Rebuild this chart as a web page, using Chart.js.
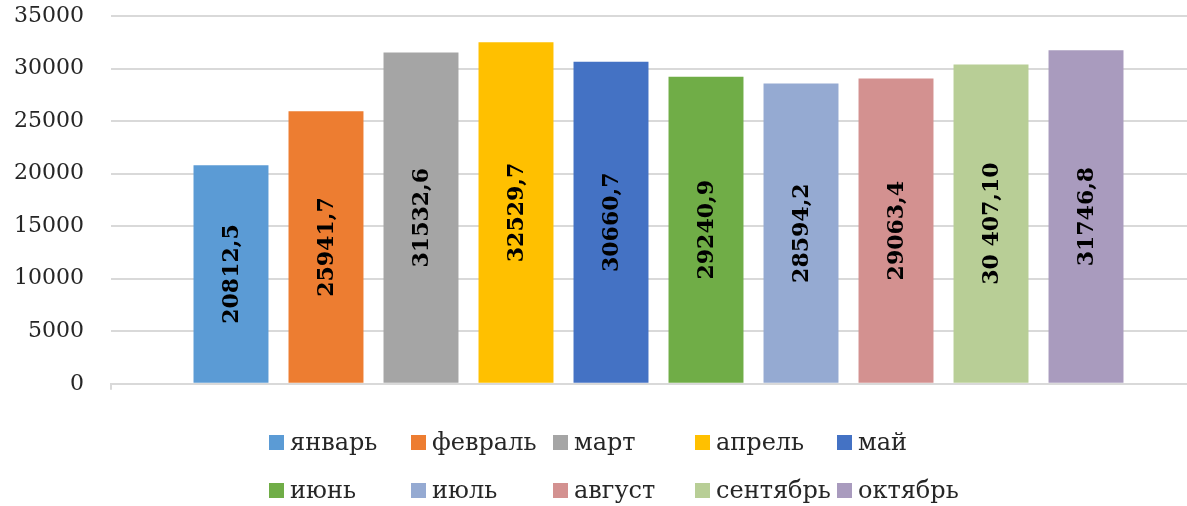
<!DOCTYPE html>
<html lang="ru">
<head>
  <meta charset="UTF-8" />
  <title>Месяцы</title>
  <script src="https://cdn.jsdelivr.net/npm/chart.js"></script>
  <style>
    html, body { margin: 0; padding: 0; background: #fff; }
    body { width: 1187px; height: 506px; overflow: hidden; position: relative; font-family: 'DejaVu Serif', serif; }
    #wrap { position: absolute; left: 0; top: 0; width: 1210px; height: 400px; }
    #legend { position: absolute; left: 0; top: 0; width: 1187px; height: 506px; pointer-events: none; }
    .item { position: absolute; height: 30px; display: flex; align-items: center; font-size: 24px; color: #262626; white-space: nowrap; }
    .box { width: 15px; height: 15px; margin-right: 6px; }
  </style>
</head>
<body>

<div id="wrap"><canvas id="chart" width="1210" height="400"></canvas></div>
<div id="legend"></div>

<script>
  // data
  const months = ['январь', 'февраль', 'март', 'апрель', 'май', 'июнь', 'июль', 'август', 'сентябрь', 'октябрь'];
  const values = [20812.5, 25941.7, 31532.6, 32529.7, 30660.7, 29240.9, 28594.2, 29063.4, 30407.1, 31746.8];
  const valueLabels = ['20812,5', '25941,7', '31532,6', '32529,7', '30660,7', '29240,9', '28594,2', '29063,4', '30 407,10', '31746,8'];
  const colors = ['#5B9BD5', '#ED7D31', '#A5A5A5', '#FFC000', '#4472C4', '#70AD47', '#95AAD2', '#D39190', '#B8CE96', '#A99BBE'];
  const yTicks = [0, 5000, 10000, 15000, 20000, 25000, 30000, 35000];

  const font = 'DejaVu Serif';

  // labels inside the bars, rotated
  const barLabels = {
    id: 'barLabels',
    afterDatasetsDraw(chart) {
      const ctx = chart.ctx;
      chart.data.datasets.forEach((ds, i) => {
        const el = chart.getDatasetMeta(i).data[0];
        const cy = (el.y + el.base) / 2;
        ctx.save();
        ctx.translate(el.x, cy);
        ctx.rotate(-Math.PI / 2);
        ctx.font = 'bold 22px "' + font + '"';
        ctx.fillStyle = '#000';
        ctx.textAlign = 'center';
        ctx.textBaseline = 'middle';
        ctx.fillText(valueLabels[i], 0, 1);
        ctx.restore();
      });
    }
  };

  new Chart(document.getElementById('chart'), {
    type: 'bar',
    data: {
      labels: [''],
      datasets: months.map((m, i) => ({
        label: m,
        data: [values[i]],
        backgroundColor: colors[i],
        categoryPercentage: 0.8676,
        barPercentage: 0.789
      }))
    },
    options: {
      responsive: false,
      animation: false,
      devicePixelRatio: 1,
      layout: { padding: { top: 0, right: 4, bottom: 0, left: 0 } },
      plugins: {
        legend: { display: false },
        tooltip: { enabled: false }
      },
      scales: {
        x: {
          offset: true,
          grid: { offset: true, drawOnChartArea: false, drawTicks: true, tickLength: 6, color: '#d9d9d9', lineWidth: 2 },
          border: { color: '#d9d9d9', width: 2 },
          ticks: { display: false },
          afterFit(scale) { scale.height = 10; }
        },
        y: {
          min: 0,
          max: 35000,
          afterBuildTicks(scale) { scale.ticks = yTicks.map(v => ({ value: v })); },
          // invisible tick marks keep the labels away from the plot
          grid: { color: '#d9d9d9', lineWidth: 2, drawTicks: true, tickLength: 24, tickColor: 'rgba(0,0,0,0)' },
          border: { display: false },
          ticks: {
            padding: 3,
            color: '#262626',
            font: { family: font, size: 22 },
            callback: v => String(v)
          },
          afterFit(scale) { scale.width = 111; }
        }
      }
    },
    plugins: [barLabels]
  });

  // legend laid out in columns, like the original
  const legend = document.getElementById('legend');
  const colX = [269, 411, 553, 695, 837];
  const rowY = [427, 475];
  months.forEach((m, i) => {
    const it = document.createElement('div');
    it.className = 'item';
    it.style.left = colX[i % 5] + 'px';
    it.style.top = rowY[Math.floor(i / 5)] + 'px';
    it.innerHTML = '<span class="box" style="background:' + colors[i] + '"></span><span>' + m + '</span>';
    legend.appendChild(it);
  });
</script>

</body>
</html>
